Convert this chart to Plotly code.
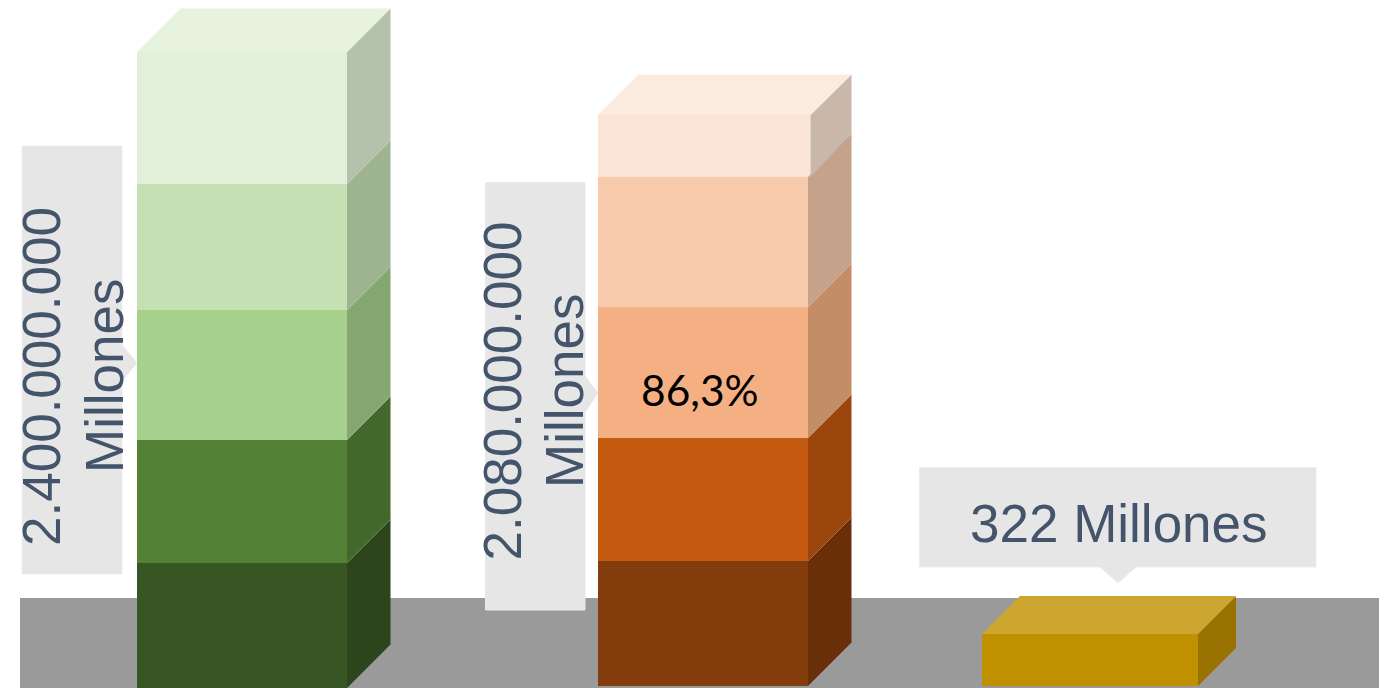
import plotly.graph_objects as go

W, H = 1384, 688

# Bar segments, bottom to top (height of each band)
bar_names = ["Verde", "Naranja", "Dorado"]
green_heights = [125, 123, 130, 126, 132]
orange_heights = [125, 123, 131, 130, 62]
gold_heights = [52]

green_front = ["#385623", "#538135", "#A8D08D", "#C5E0B3", "#E2EFD9"]
green_side = ["#2C451C", "#43682B", "#87A772", "#9EB38F", "#B4C1AB"]
green_top = "#E7F2DF"
orange_front = ["#833C0B", "#C55A11", "#F4B083", "#F7CAAC", "#F9E4D6"]
orange_side = ["#692F08", "#9C460D", "#C38D68", "#C5A28A", "#C9B7AA"]
orange_top = "#FBEADE"
gold_front = ["#BF9000"]
gold_side = ["#997300"]
gold_top = "#CCA62E"

labels_green = ["2.400.000.000", "Millones"]
labels_orange = ["2.080.000.000", "Millones"]
label_gold = "322 Millones"
share_label = "86,3%"

SLATE = "#44546A"
BOX = "#E6E6E6"


def py(v):
    return H - v


fig = go.Figure()


def add_block(x0, x1, base, heights, front, side, top, depth, top_extra=0, top_rise=None):
    top_rise = depth if top_rise is None else top_rise
    level = base
    for i, (h, cf, cs) in enumerate(zip(heights, front, side)):
        last = i == len(heights) - 1
        right = x1 + (top_extra if last else 0)
        upper = top_rise if last else depth
        fig.add_trace(go.Scatter(
            x=[right, x1 + depth, x1 + depth, right, right],
            y=[level, level + depth, level + h + upper, level + h, level],
            mode="lines", fill="toself", fillcolor=cs, line=dict(width=0),
            hoverinfo="skip", showlegend=False))
        fig.add_trace(go.Bar(
            x=[(x0 + right) / 2], y=[h], base=[level], width=[right - x0],
            marker=dict(color=cf, line=dict(width=0)),
            hoverinfo="skip", showlegend=False))
        level += h
    right = x1 + top_extra
    fig.add_trace(go.Scatter(
        x=[x0, right, x1 + depth, x0 + top_rise, x0],
        y=[level, level, level + top_rise, level + top_rise, level],
        mode="lines", fill="toself", fillcolor=top, line=dict(width=0),
        hoverinfo="skip", showlegend=False))


add_block(137, 347, 0, green_heights, green_front, green_side, green_top, 43.5)
add_block(598, 808, 2, orange_heights, orange_front, orange_side, orange_top, 43.5, top_extra=2.5, top_rise=40.5)
add_block(982, 1198, 2, gold_heights, gold_front, gold_side, gold_top, 38)


def path(pts):
    return "M " + " L ".join(f"{x} {py(y)}" for x, y in pts) + " Z"


shapes = [
    dict(type="rect", xref="x", yref="y", x0=20, x1=1379, y0=0, y1=py(598),
         fillcolor="#9A9A9A", line=dict(width=0), layer="below"),
    dict(type="path", xref="x", yref="y", layer="below", fillcolor=BOX,
         line=dict(width=1, color="#EDEDED"),
         path=path([(22, 146), (122, 146), (122, 345), (137, 363), (122, 381), (122, 574), (22, 574)])),
    dict(type="path", xref="x", yref="y", layer="below", fillcolor=BOX,
         line=dict(width=1, color="#E9E9E9"),
         path=path([(485.5, 182.5), (585, 182.5), (585, 376), (598, 393), (585, 412), (585, 610), (485.5, 610)])),
    dict(type="path", xref="x", yref="y", layer="below", fillcolor=BOX,
         line=dict(width=1, color="#EDEDED"),
         path=path([(919.5, 467.5), (1316, 467.5), (1316, 567), (1136, 567), (1118, 583), (1100, 567), (919.5, 567)])),
]

FONT = "Liberation Sans"


def rot(text, x, y, size=53):
    return dict(text=text, x=x, y=py(y), xref="x", yref="y", showarrow=False,
                textangle=-90, font=dict(family=FONT, size=size, color=SLATE),
                xanchor="center", yanchor="middle")


annotations = [
    rot(labels_green[0], 41, 377),
    rot(labels_green[1], 104, 376),
    rot(labels_orange[0], 502, 391.5),
    rot(labels_orange[1], 564, 391),
    dict(text=label_gold, x=1118.5, y=py(523), xref="x", yref="y", showarrow=False,
         font=dict(family=FONT, size=53, color=SLATE), xanchor="center", yanchor="middle"),
    dict(text=share_label, x=700, y=py(389), xref="x", yref="y", showarrow=False,
         font=dict(family="Lato", size=42.5, color="#000000"), xanchor="center", yanchor="middle"),
]

fig.update_layout(
    width=W, height=H, margin=dict(l=0, r=0, t=0, b=0),
    paper_bgcolor="#FFFFFF", plot_bgcolor="#FFFFFF",
    barmode="overlay", showlegend=False,
    xaxis=dict(range=[0, W], visible=False, fixedrange=True),
    yaxis=dict(range=[0, H], visible=False, fixedrange=True),
    shapes=shapes, annotations=annotations,
)

fig.write_html("out.html", post_script="document.body.style.margin='0';",
               config=dict(displayModeBar=False))
